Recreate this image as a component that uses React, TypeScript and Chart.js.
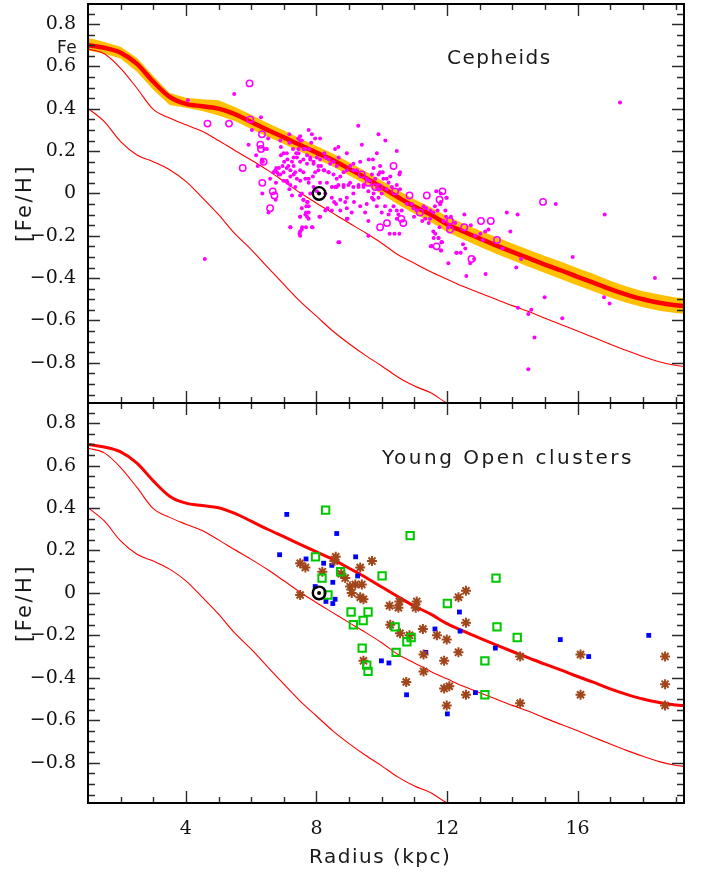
import React, { useEffect, useRef } from 'react';
import { Chart, registerables } from 'chart.js';

Chart.register(...registerables);

const X_MIN = 1;
const X_MAX = 19.26;
const Y_MIN = -0.99;
const Y_MAX = 0.895;
const xTickValues = [4, 8, 12, 16];
const yTickValues = [-0.8, -0.6, -0.4, -0.2, 0, 0.2, 0.4, 0.6, 0.8];

const modelX = [1, 1.5, 2, 2.5, 3, 3.5, 4, 4.5, 5, 5.5, 6, 6.5, 7, 7.5, 8, 8.5, 9, 9.5, 10, 10.5, 11, 11.5, 12, 12.5, 13, 13.5, 14, 14.5, 15, 15.5, 16, 16.5, 17, 17.5, 18, 18.5, 19, 19.3];
const modelMean = [0.7, 0.688, 0.665, 0.612, 0.528, 0.456, 0.423, 0.412, 0.401, 0.375, 0.338, 0.3, 0.265, 0.229, 0.193, 0.158, 0.116, 0.074, 0.028, -0.018, -0.062, -0.1, -0.145, -0.18, -0.213, -0.245, -0.276, -0.306, -0.336, -0.364, -0.394, -0.422, -0.452, -0.478, -0.5, -0.516, -0.528, -0.532];
const bandUpper = [0.735, 0.715, 0.693, 0.64, 0.555, 0.475, 0.452, 0.445, 0.44, 0.408, 0.372, 0.333, 0.297, 0.26, 0.224, 0.189, 0.147, 0.105, 0.06, 0.015, -0.028, -0.065, -0.108, -0.142, -0.175, -0.206, -0.236, -0.266, -0.296, -0.323, -0.353, -0.381, -0.412, -0.44, -0.462, -0.478, -0.491, -0.495];
const bandLower = [0.675, 0.66, 0.638, 0.575, 0.49, 0.418, 0.405, 0.39, 0.368, 0.342, 0.305, 0.268, 0.234, 0.198, 0.162, 0.127, 0.085, 0.043, -0.004, -0.052, -0.096, -0.135, -0.182, -0.218, -0.252, -0.285, -0.316, -0.346, -0.376, -0.405, -0.435, -0.463, -0.492, -0.516, -0.538, -0.554, -0.565, -0.569];
const thinUpper = [0.682, 0.66, 0.591, 0.497, 0.397, 0.356, 0.324, 0.294, 0.25, 0.203, 0.158, 0.11, 0.057, 0.003, -0.046, -0.093, -0.14, -0.186, -0.235, -0.29, -0.33, -0.37, -0.405, -0.44, -0.47, -0.5, -0.53, -0.558, -0.59, -0.62, -0.65, -0.681, -0.712, -0.742, -0.77, -0.795, -0.812, -0.818];
const thinLowerX = [1, 1.5, 2, 2.5, 3, 3.5, 4, 4.5, 5, 5.5, 6, 6.5, 7, 7.5, 8, 8.5, 9, 9.5, 10, 10.5, 11, 11.5, 12, 12.5];
const thinLower = [0.402, 0.339, 0.245, 0.182, 0.15, 0.112, 0.057, -0.02, -0.1, -0.19, -0.265, -0.348, -0.43, -0.51, -0.58, -0.65, -0.71, -0.765, -0.815, -0.868, -0.91, -0.942, -0.99, -1.02];

const sunPosition: [number, number][] = [[8.08, 0.0]];

const cepheidDots: [number, number][] = [
  [4.06, 0.44], [5.48, 0.47], [6.30, 0.36], [6.02, 0.30], [6.48, 0.21], [6.52, 0.26], [6.40, 0.21], [6.33, 0.16], [6.36, 0.15], [6.89, 0.25],
  [7.17, 0.28], [7.17, 0.24], [7.44, 0.26], [7.50, 0.25], [7.76, 0.30], [7.86, 0.28], [7.96, 0.26], [8.11, 0.26], [7.84, 0.24], [7.55, 0.25],
  [7.45, 0.21], [7.65, 0.21], [7.78, 0.21], [6.91, 0.18], [7.01, 0.15], [7.09, 0.19], [7.28, 0.21], [7.38, 0.19], [6.85, 0.12], [6.77, 0.12],
  [6.96, 0.13], [7.09, 0.12], [7.14, 0.13], [7.25, 0.15], [7.30, 0.13], [7.40, 0.17], [7.50, 0.15], [7.60, 0.16], [7.71, 0.14], [7.81, 0.17],
  [7.91, 0.15], [8.01, 0.17], [8.11, 0.16], [8.24, 0.19], [8.27, 0.17], [8.38, 0.16], [8.52, 0.15], [8.62, 0.13], [8.57, 0.21], [8.67, 0.22],
  [8.93, 0.19], [9.28, 0.32], [9.39, 0.23], [9.90, 0.28], [10.11, 0.25], [9.85, 0.19], [9.73, 0.16], [9.60, 0.16], [9.34, 0.15], [9.24, 0.11],
  [9.13, 0.11], [9.03, 0.13], [8.93, 0.11], [8.83, 0.10], [8.73, 0.08], [8.62, 0.07], [8.52, 0.09], [8.37, 0.10], [8.24, 0.11], [8.14, 0.13],
  [8.06, 0.11], [7.96, 0.10], [7.89, 0.08], [7.76, 0.07], [7.60, 0.10], [7.50, 0.11], [7.35, 0.10], [7.20, 0.08], [7.11, 0.05], [6.99, 0.06],
  [6.89, 0.09], [6.79, 0.10], [6.68, 0.10], [6.58, 0.07], [6.34, 0.00], [6.76, 0.05], [7.17, 0.02], [7.25, -0.01], [7.50, -0.01], [7.60, -0.03],
  [7.73, -0.04], [7.81, 0.00], [7.91, 0.03], [8.01, 0.01], [8.11, 0.05], [8.32, 0.05], [8.47, 0.03], [8.57, 0.03], [8.67, 0.04], [8.83, 0.03],
  [8.98, 0.04], [9.13, 0.03], [9.29, 0.04], [9.44, 0.03], [9.59, 0.01], [9.75, 0.00], [9.90, -0.02], [10.00, 0.00], [10.15, 0.02], [10.31, 0.03],
  [10.46, 0.04], [10.56, 0.02], [10.26, 0.08], [10.15, 0.07], [10.03, 0.10], [9.90, 0.09], [9.80, 0.07], [10.54, 0.09], [10.46, 0.20], [9.95, 0.13],
  [9.75, 0.12], [9.59, 0.06], [9.70, -0.02], [9.85, -0.06], [10.10, -0.06], [10.00, -0.09], [10.21, -0.10], [10.36, -0.06], [10.51, -0.10], [10.61, -0.08],
  [10.77, -0.05], [10.97, -0.07], [11.07, -0.08], [11.28, -0.06], [11.48, -0.12], [11.58, -0.09], [11.63, -0.06], [11.79, -0.05], [11.99, -0.02], [11.97, -0.11],
  [11.89, -0.13], [12.04, -0.16], [12.30, -0.28], [11.58, -0.18], [11.74, -0.21], [11.84, -0.23], [11.53, -0.25], [8.67, -0.23], [9.59, -0.20], [10.24, -0.19],
  [10.54, -0.19], [8.93, -0.12], [9.08, -0.09], [9.15, -0.04], [8.88, -0.04], [8.60, -0.05], [8.47, -0.08], [8.27, -0.08], [8.11, -0.11], [7.71, -0.11],
  [7.50, -0.11], [7.55, -0.07], [7.68, -0.09], [7.76, -0.06], [7.71, -0.04], [7.50, -0.18], [7.55, -0.17], [7.68, -0.16], [7.88, -0.16], [7.20, -0.16],
  [6.75, -0.03], [6.53, -0.09],
  [11.67, 0.01], [11.81, 0.00], [11.98, -0.02], [11.81, -0.04], [11.79, -0.05], [11.49, -0.08], [11.71, -0.08], [11.95, -0.08], [11.33, -0.12], [11.44, -0.14],
  [12.12, -0.11], [12.25, -0.14], [12.53, -0.10], [12.73, -0.15], [11.77, -0.16], [11.64, -0.19], [11.59, -0.21], [11.74, -0.21], [11.84, -0.23], [11.54, -0.25],
  [11.82, -0.27], [12.28, -0.28], [12.42, -0.28], [12.49, -0.24], [12.56, -0.26], [12.86, -0.20], [13.02, -0.19], [13.10, -0.22], [13.17, -0.18], [13.27, -0.17],
  [12.83, -0.31], [12.71, -0.33], [12.04, -0.33], [12.59, -0.39], [13.18, -0.38], [13.70, -0.26], [13.83, -0.09], [14.16, -0.10], [13.94, -0.18], [14.27, -0.31],
  [14.12, -0.35], [15.33, -0.05], [15.85, -0.30], [16.83, -0.10], [18.37, -0.40], [14.99, -0.49], [16.81, -0.49], [16.98, -0.52], [14.17, -0.54], [14.58, -0.55],
  [14.49, -0.57], [15.53, -0.59], [14.68, -0.68], [14.49, -0.83], [17.30, 0.43],
  [4.58, -0.31], [8.70, -0.23], [11.50, -0.25], [11.83, -0.23], [11.81, -0.27],
  [7.50, 0.27], [6.91, 0.22], [6.99, 0.19], [7.11, 0.16], [7.30, 0.17], [7.45, 0.19], [7.60, 0.21], [7.71, 0.18], [7.81, 0.16], [7.91, 0.14],
  [8.06, 0.13], [8.22, 0.11], [8.37, 0.10], [6.74, 0.11], [6.84, 0.09], [6.99, 0.10], [7.20, 0.11], [7.30, 0.09], [7.40, 0.07], [7.50, 0.06],
  [7.66, 0.07], [7.76, 0.05], [7.09, 0.06], [7.20, 0.04], [7.35, 0.03], [7.55, 0.00], [7.60, -0.03], [7.69, -0.06], [7.76, -0.09], [7.66, -0.10],
  [7.50, -0.11], [7.76, -0.12], [7.20, -0.16], [7.56, -0.16], [7.86, -0.16], [7.48, -0.19], [7.50, -0.20], [8.09, -0.11], [8.34, -0.07], [8.54, -0.04],
  [8.73, -0.03], [8.93, -0.02], [9.13, 0.00], [9.29, 0.03], [9.44, 0.04], [9.54, 0.07], [9.70, 0.09], [9.95, 0.10], [10.05, 0.07], [10.21, 0.05],
  [9.90, 0.02], [9.75, -0.03], [9.54, -0.05], [9.34, -0.06], [8.93, -0.07], [8.73, -0.08], [8.47, -0.02], [8.27, 0.00], [8.62, 0.03], [8.83, 0.04],
  [9.03, 0.05], [10.56, 0.10], [8.68, 0.17], [8.42, 0.14], [9.13, 0.14], [10.26, -0.08], [10.46, -0.08], [10.46, -0.12], [9.59, -0.13], [9.49, -0.09],
  [8.95, -0.12], [10.39, -0.19], [10.99, -0.11], [11.36, -0.07], [10.92, -0.05], [11.24, -0.13], [5.92, 0.23], [6.15, 0.18], [6.20, 0.13],
];

const cepheidCircles: [number, number][] = [
  [4.66, 0.33], [5.32, 0.33], [5.95, 0.52], [5.97, 0.35], [6.33, 0.28], [6.28, 0.23], [6.30, 0.21], [6.38, 0.15], [5.74, 0.12], [6.34, 0.05],
  [6.66, 0.01], [6.71, -0.01], [6.58, -0.07], [10.36, 0.13], [11.38, -0.01], [11.86, 0.01], [11.77, -0.03], [12.09, -0.13], [12.09, -0.17], [9.95, -0.16],
  [10.16, -0.14], [10.60, -0.12], [10.66, -0.14], [11.68, -0.25], [11.17, -0.09], [10.85, -0.01], [9.59, 0.05], [9.80, 0.03], [10.41, 0.01], [9.39, 0.09],
  [9.92, 0.03], [12.53, -0.16], [13.04, -0.13], [13.34, -0.13], [13.53, -0.22], [12.75, -0.31], [14.94, -0.04],
];

const blueSquares: [number, number][] = [
  [7.09, 0.37], [8.62, 0.28], [6.87, 0.18], [7.68, 0.16], [8.22, 0.14], [8.47, 0.13], [9.20, 0.17], [9.26, 0.08], [8.50, 0.05], [7.96, 0.03],
  [8.57, -0.03], [8.29, -0.04], [8.50, -0.05], [11.63, -0.17], [12.40, -0.18], [12.38, -0.09], [9.99, -0.32], [10.22, -0.33], [11.35, -0.28], [10.76, -0.48],
  [12.01, -0.57], [12.87, -0.47], [13.48, -0.26], [15.47, -0.22], [16.34, -0.30], [18.18, -0.20],
];
const greenSquares: [number, number][] = [
  [8.28, 0.39], [10.87, 0.27], [7.97, 0.17], [8.74, 0.10], [8.17, 0.07], [10.01, 0.08], [8.35, -0.01], [9.06, -0.09], [9.58, -0.09], [9.43, -0.13],
  [9.13, -0.15], [10.41, -0.16], [10.90, -0.21], [10.77, -0.23], [10.44, -0.28], [9.40, -0.26], [9.54, -0.34], [9.58, -0.37], [12.01, -0.05], [13.50, 0.07],
  [13.53, -0.16], [14.15, -0.21], [13.16, -0.32], [13.16, -0.48],
];
const brownStars: [number, number][] = [
  [7.50, 0.14], [7.66, 0.12], [8.59, 0.17], [8.55, 0.15], [8.18, 0.10], [9.34, 0.12], [9.70, 0.15], [8.76, 0.09], [8.88, 0.07], [9.03, 0.03],
  [9.19, 0.04], [9.39, 0.04], [9.08, 0.00], [9.34, -0.02], [9.44, -0.03], [7.50, -0.01], [10.24, -0.06], [10.54, -0.04], [10.51, -0.07], [11.07, -0.04],
  [11.04, -0.07], [12.35, -0.02], [12.58, 0.01], [10.26, -0.15], [10.56, -0.19], [10.85, -0.20], [11.26, -0.17], [11.69, -0.20], [11.99, -0.22], [12.58, -0.14],
  [12.35, -0.28], [11.28, -0.29], [11.91, -0.32], [11.28, -0.37], [9.44, -0.32], [10.75, -0.42], [11.91, -0.45], [12.07, -0.44], [12.58, -0.48], [11.99, -0.53],
  [14.24, -0.30], [14.24, -0.52], [16.09, -0.29], [16.09, -0.48], [18.68, -0.30], [18.68, -0.43], [18.68, -0.53],
];

const RED = '#ff0000';
const zip = (xs: number[], ys: number[]) => xs.map((x, i) => ({ x, y: ys[i] }));
const pairs = (p: [number, number][]) => p.map(([x, y]) => ({ x, y }));
const fmtY = (v: number) => (Math.abs(v) < 1e-9 ? '0' : (v < 0 ? '\u2212' : '') + Math.abs(v).toFixed(1));

function curveDatasets(withBand: boolean): any[] {
  const ds: any[] = [];
  if (withBand) {
    ds.push({ data: zip(modelX, bandUpper), borderWidth: 0, pointRadius: 0, tension: 0, backgroundColor: '#ffc000', fill: '+1', order: 9 });
    ds.push({ data: zip(modelX, bandLower), borderWidth: 0, pointRadius: 0, tension: 0, fill: false, order: 9 });
  }
  ds.push({ data: zip(modelX, thinUpper), borderColor: RED, borderWidth: 1.1, pointRadius: 0, cubicInterpolationMode: 'monotone', order: 7 });
  ds.push({ data: zip(thinLowerX, thinLower), borderColor: RED, borderWidth: 1.1, pointRadius: 0, cubicInterpolationMode: 'monotone', order: 7 });
  ds.push({ data: zip(modelX, modelMean), borderColor: RED, borderWidth: withBand ? 4.5 : 3, pointRadius: 0, cubicInterpolationMode: 'monotone', order: 6 });
  return ds;
}

function sunDatasets(): any[] {
  return [
    { data: pairs(sunPosition), showLine: false, pointRadius: 6.3, pointBorderWidth: 2.4, pointBorderColor: '#000', pointBackgroundColor: 'rgba(0,0,0,0)', order: 1 },
    { data: pairs(sunPosition), showLine: false, pointRadius: 2, pointBorderWidth: 0, pointBackgroundColor: '#000', order: 0 },
  ];
}

function makeFramePlugin(drawTexts: (ctx: CanvasRenderingContext2D) => void) {
  return {
    id: 'frameTicks',
    afterDraw(chart: any) {
      const { ctx, chartArea: a } = chart;
      const xs = chart.scales.x;
      const ys = chart.scales.y;
      ctx.save();
      ctx.strokeStyle = '#2b2b2b';
      ctx.lineWidth = 1.4;
      ctx.beginPath();
      for (let k = Math.ceil(Y_MIN / 0.05 - 1e-9); k <= Math.floor(Y_MAX / 0.05 + 1e-9); k++) {
        const py = Math.round(ys.getPixelForValue(k * 0.05)) + 0.5;
        const len = k % 4 === 0 ? 12 : 7;
        ctx.moveTo(a.left, py); ctx.lineTo(a.left + len, py);
        ctx.moveTo(a.right, py); ctx.lineTo(a.right - len, py);
      }
      for (let k = Math.ceil(X_MIN); k <= Math.floor(X_MAX); k++) {
        const px = Math.round(xs.getPixelForValue(k)) + 0.5;
        if (px - a.left < 2 || a.right - px < 2) continue;
        const len = k % 4 === 0 ? 12 : 6;
        ctx.moveTo(px, a.bottom); ctx.lineTo(px, a.bottom - len);
        ctx.moveTo(px, a.top); ctx.lineTo(px, a.top + len);
      }
      ctx.stroke();
      ctx.strokeStyle = '#000';
      ctx.lineWidth = 2;
      ctx.strokeRect(a.left, a.top, a.right - a.left, a.bottom - a.top);
      ctx.fillStyle = '#1a1a1a';
      drawTexts(ctx);
      ctx.restore();
    },
  };
}

function text(ctx: CanvasRenderingContext2D, s: string, x: number, y: number, size: number, spacing: number, align: CanvasTextAlign = 'left', rotate = false) {
  ctx.save();
  ctx.font = `${size}px "DejaVu Sans"`;
  (ctx as any).letterSpacing = `${spacing}px`;
  ctx.textAlign = align;
  ctx.textBaseline = 'middle';
  ctx.translate(x, y);
  if (rotate) ctx.rotate(-Math.PI / 2);
  ctx.fillText(s, 0, 0);
  ctx.restore();
}

const tickFont = { family: '"DejaVu Serif"', size: 19 };

function makeOptions(showX: boolean, padding: any) {
  return {
    responsive: false,
    maintainAspectRatio: false,
    animation: false,
    devicePixelRatio: 1,
    events: [],
    layout: { padding },
    plugins: { legend: { display: false }, tooltip: { enabled: false }, title: { display: false } },
    scales: {
      x: {
        type: 'linear', min: X_MIN, max: X_MAX, display: showX,
        grid: { display: false, drawTicks: false }, border: { display: false },
        ticks: { font: tickFont, color: '#111', padding: 15, maxRotation: 0, autoSkip: false, callback: (v: number) => String(v) },
        afterBuildTicks: (s: any) => { s.ticks = xTickValues.map((v) => ({ value: v })); },
        afterFit: (s: any) => { s.height = showX ? 72 : 0; s.paddingLeft = 0; s.paddingRight = 0; },
      },
      y: {
        type: 'linear', min: Y_MIN, max: Y_MAX,
        grid: { display: false, drawTicks: false }, border: { display: false },
        ticks: { font: tickFont, color: '#111', padding: 12, autoSkip: false, callback: (v: number) => fmtY(v) },
        afterBuildTicks: (s: any) => { s.ticks = yTickValues.map((v) => ({ value: v })); },
        afterFit: (s: any) => { s.width = 88; s.paddingTop = 0; s.paddingBottom = 0; },
      },
    },
  };
}

// Canvas geometry: chart area padding of 9px top/bottom inside each canvas.
// Top canvas: global y -5 .. 412 (plot 4 .. 403); bottom canvas: 394 .. 875 (plot 403 .. 803).
const TOP_CANVAS_Y = -5;
const TOP_CANVAS_H = 417;
const BOT_CANVAS_Y = 394;
const BOT_CANVAS_H = 481;

export default function App() {
  const topRef = useRef<HTMLCanvasElement>(null);
  const botRef = useRef<HTMLCanvasElement>(null);

  useEffect(() => {
    const top = new Chart(topRef.current as HTMLCanvasElement, {
      type: 'line',
      data: {
        datasets: [
          ...curveDatasets(true),
          { data: pairs(cepheidDots), showLine: false, pointRadius: 2, pointBorderWidth: 0, pointBackgroundColor: '#ff00ff', order: 3 },
          { data: pairs(cepheidCircles), showLine: false, pointRadius: 3.2, pointBorderWidth: 1.5, pointBorderColor: '#ff00ff', pointBackgroundColor: 'rgba(0,0,0,0)', order: 2 },
          ...sunDatasets(),
        ],
      },
      options: makeOptions(false, { left: 0, right: 18, top: 9, bottom: 9 }) as any,
      plugins: [makeFramePlugin((ctx) => {
        const dy = -TOP_CANVAS_Y;
        text(ctx, 'Fe', 57, 49 + dy, 17, 0.5);
        text(ctx, 'Cepheids', 447, 59 + dy, 20, 1.5);
        text(ctx, '[Fe/H]', 26, 203 + dy, 21, 2.5, 'center', true);
      })],
    });

    const bottom = new Chart(botRef.current as HTMLCanvasElement, {
      type: 'line',
      data: {
        datasets: [
          ...curveDatasets(false),
          { data: pairs(blueSquares), showLine: false, pointStyle: 'rect', pointRadius: 3.4, pointBorderWidth: 0, pointBackgroundColor: '#0000ff', order: 4 },
          { data: pairs(brownStars), showLine: false, pointStyle: 'star', pointRadius: 5, pointBorderWidth: 2, pointBorderColor: '#a0461a', pointBackgroundColor: '#a0461a', order: 3 },
          { data: pairs(greenSquares), showLine: false, pointStyle: 'rect', pointRadius: 5.2, pointBorderWidth: 2, pointBorderColor: '#00c800', pointBackgroundColor: 'rgba(0,0,0,0)', order: 2 },
          ...sunDatasets(),
        ],
      },
      options: makeOptions(true, { left: 0, right: 18, top: 9, bottom: 0 }) as any,
      plugins: [makeFramePlugin((ctx) => {
        const dy = -BOT_CANVAS_Y;
        text(ctx, 'Young Open clusters', 382, 459 + dy, 20, 2.5);
        text(ctx, '[Fe/H]', 26, 603 + dy, 21, 2.5, 'center', true);
        text(ctx, 'Radius (kpc)', 309, 858 + dy, 20, 1.5);
      })],
    });

    return () => {
      top.destroy();
      bottom.destroy();
    };
  }, []);

  return (
    <div style={{ position: 'absolute', left: 0, top: 0, width: 702, height: 875, background: '#fff', overflow: 'hidden' }}>
      <canvas ref={topRef} width={702} height={TOP_CANVAS_H} style={{ position: 'absolute', left: 0, top: TOP_CANVAS_Y }} />
      <canvas ref={botRef} width={702} height={BOT_CANVAS_H} style={{ position: 'absolute', left: 0, top: BOT_CANVAS_Y }} />
    </div>
  );
}
